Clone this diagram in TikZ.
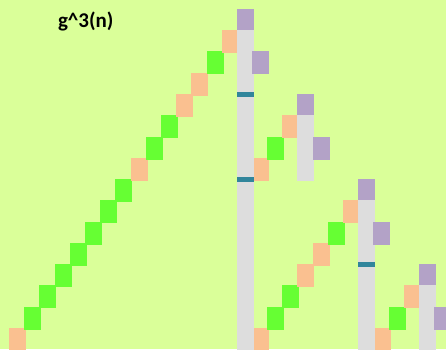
\documentclass[tikz,border=0pt]{standalone}
\usepackage{fontspec}
\setmainfont{Carlito}
\usepackage{tikz}
\usetikzlibrary{positioning}
\definecolor{gbg}{RGB}{218,255,153}
\definecolor{gstep}{RGB}{102,255,51}
\definecolor{gpeach}{RGB}{250,192,144}
\definecolor{glilac}{RGB}{179,162,199}
\definecolor{gstem}{RGB}{221,221,221}
\definecolor{gteal}{RGB}{49,133,155}

\begin{document}
\begin{tikzpicture}[x=1pt, y=-1pt,
  every node/.style={inner sep=0pt, outer sep=0pt, anchor=north west},
  cell/.style={rectangle, minimum width=17pt, minimum height=22.5pt},
  grn/.style={cell, fill=gstep},
  pch/.style={cell, fill=gpeach},
  lilac/.style={cell, fill=glilac},
  stem/.style={rectangle, fill=gstem, minimum width=17pt},
  notch/.style={rectangle, fill=gteal, minimum width=17pt, minimum height=5pt},
  title/.style={font=\fontsize{21}{24}\selectfont\bfseries, anchor=base west},
]

\useasboundingbox (0,0) rectangle (446,349);
\clip (0,0) rectangle (446,349);
\fill[gbg] (0,0) rectangle (446,349);

\node[title] (lbl) at (58,27) {g\textasciicircum3(n)};

% ── Big staircase ──
\node[pch] (s0)  at (9,328)   {}; \node[grn] (s1)  at (24,307)  {};
\node[grn] (s2)  at (39,285)  {}; \node[grn] (s3)  at (55,264)  {};
\node[grn] (s4)  at (70,243)  {}; \node[grn] (s5)  at (85,222)  {};
\node[grn] (s6)  at (100,200) {}; \node[grn] (s7)  at (115,179) {};
\node[pch] (s8)  at (131,158) {}; \node[grn] (s9)  at (146,137) {};
\node[grn] (s10) at (161,115) {}; \node[pch] (s11) at (176,94)  {};
\node[pch] (s12) at (191,73)  {}; \node[grn] (s13) at (207,51)  {};
\node[pch] (s14) at (222,30)  {};

% ── Second staircase ──
\node[pch] (t0) at (252,158) {}; \node[grn] (t1) at (267,137) {};
\node[pch] (t2) at (282,115) {};

% ── Third staircase ──
\node[pch] (u0) at (252,328) {}; \node[grn] (u1) at (267,307) {};
\node[grn] (u2) at (282,285) {}; \node[pch] (u3) at (297,264) {};
\node[pch] (u4) at (313,243) {}; \node[grn] (u5) at (328,222) {};
\node[pch] (u6) at (343,200) {};

% ── Fourth staircase ──
\node[pch] (v0) at (374,328) {}; \node[grn] (v1) at (389,307) {};
\node[pch] (v2) at (404,285) {};

% ── Stems ──
\node[stem, minimum height=325pt] (bar1) at (237,30)  {};
\node[stem, minimum height=66pt]  (bar2) at (297,115) {};
\node[stem, minimum height=155pt] (bar3) at (358,200) {};
\node[stem, minimum height=70pt]  (bar4) at (419,285) {};

\node[notch] (n1) at (237,92)  {};
\node[notch] (n2) at (237,177) {};
\node[notch] (n3) at (358,262) {};

% ── Lilac caps ──
\node[lilac, minimum height=21pt] (cap1) at (237,9)   {}; \node[lilac] (side1) at (252,51)  {};
\node[lilac, minimum height=21pt] (cap2) at (297,94)  {}; \node[lilac] (side2) at (313,137) {};
\node[lilac, minimum height=21pt] (cap3) at (358,179) {}; \node[lilac] (side3) at (373,222) {};
\node[lilac, minimum height=21pt] (cap4) at (419,264) {}; \node[lilac] (side4) at (434,307) {};

\end{tikzpicture}
\end{document}
